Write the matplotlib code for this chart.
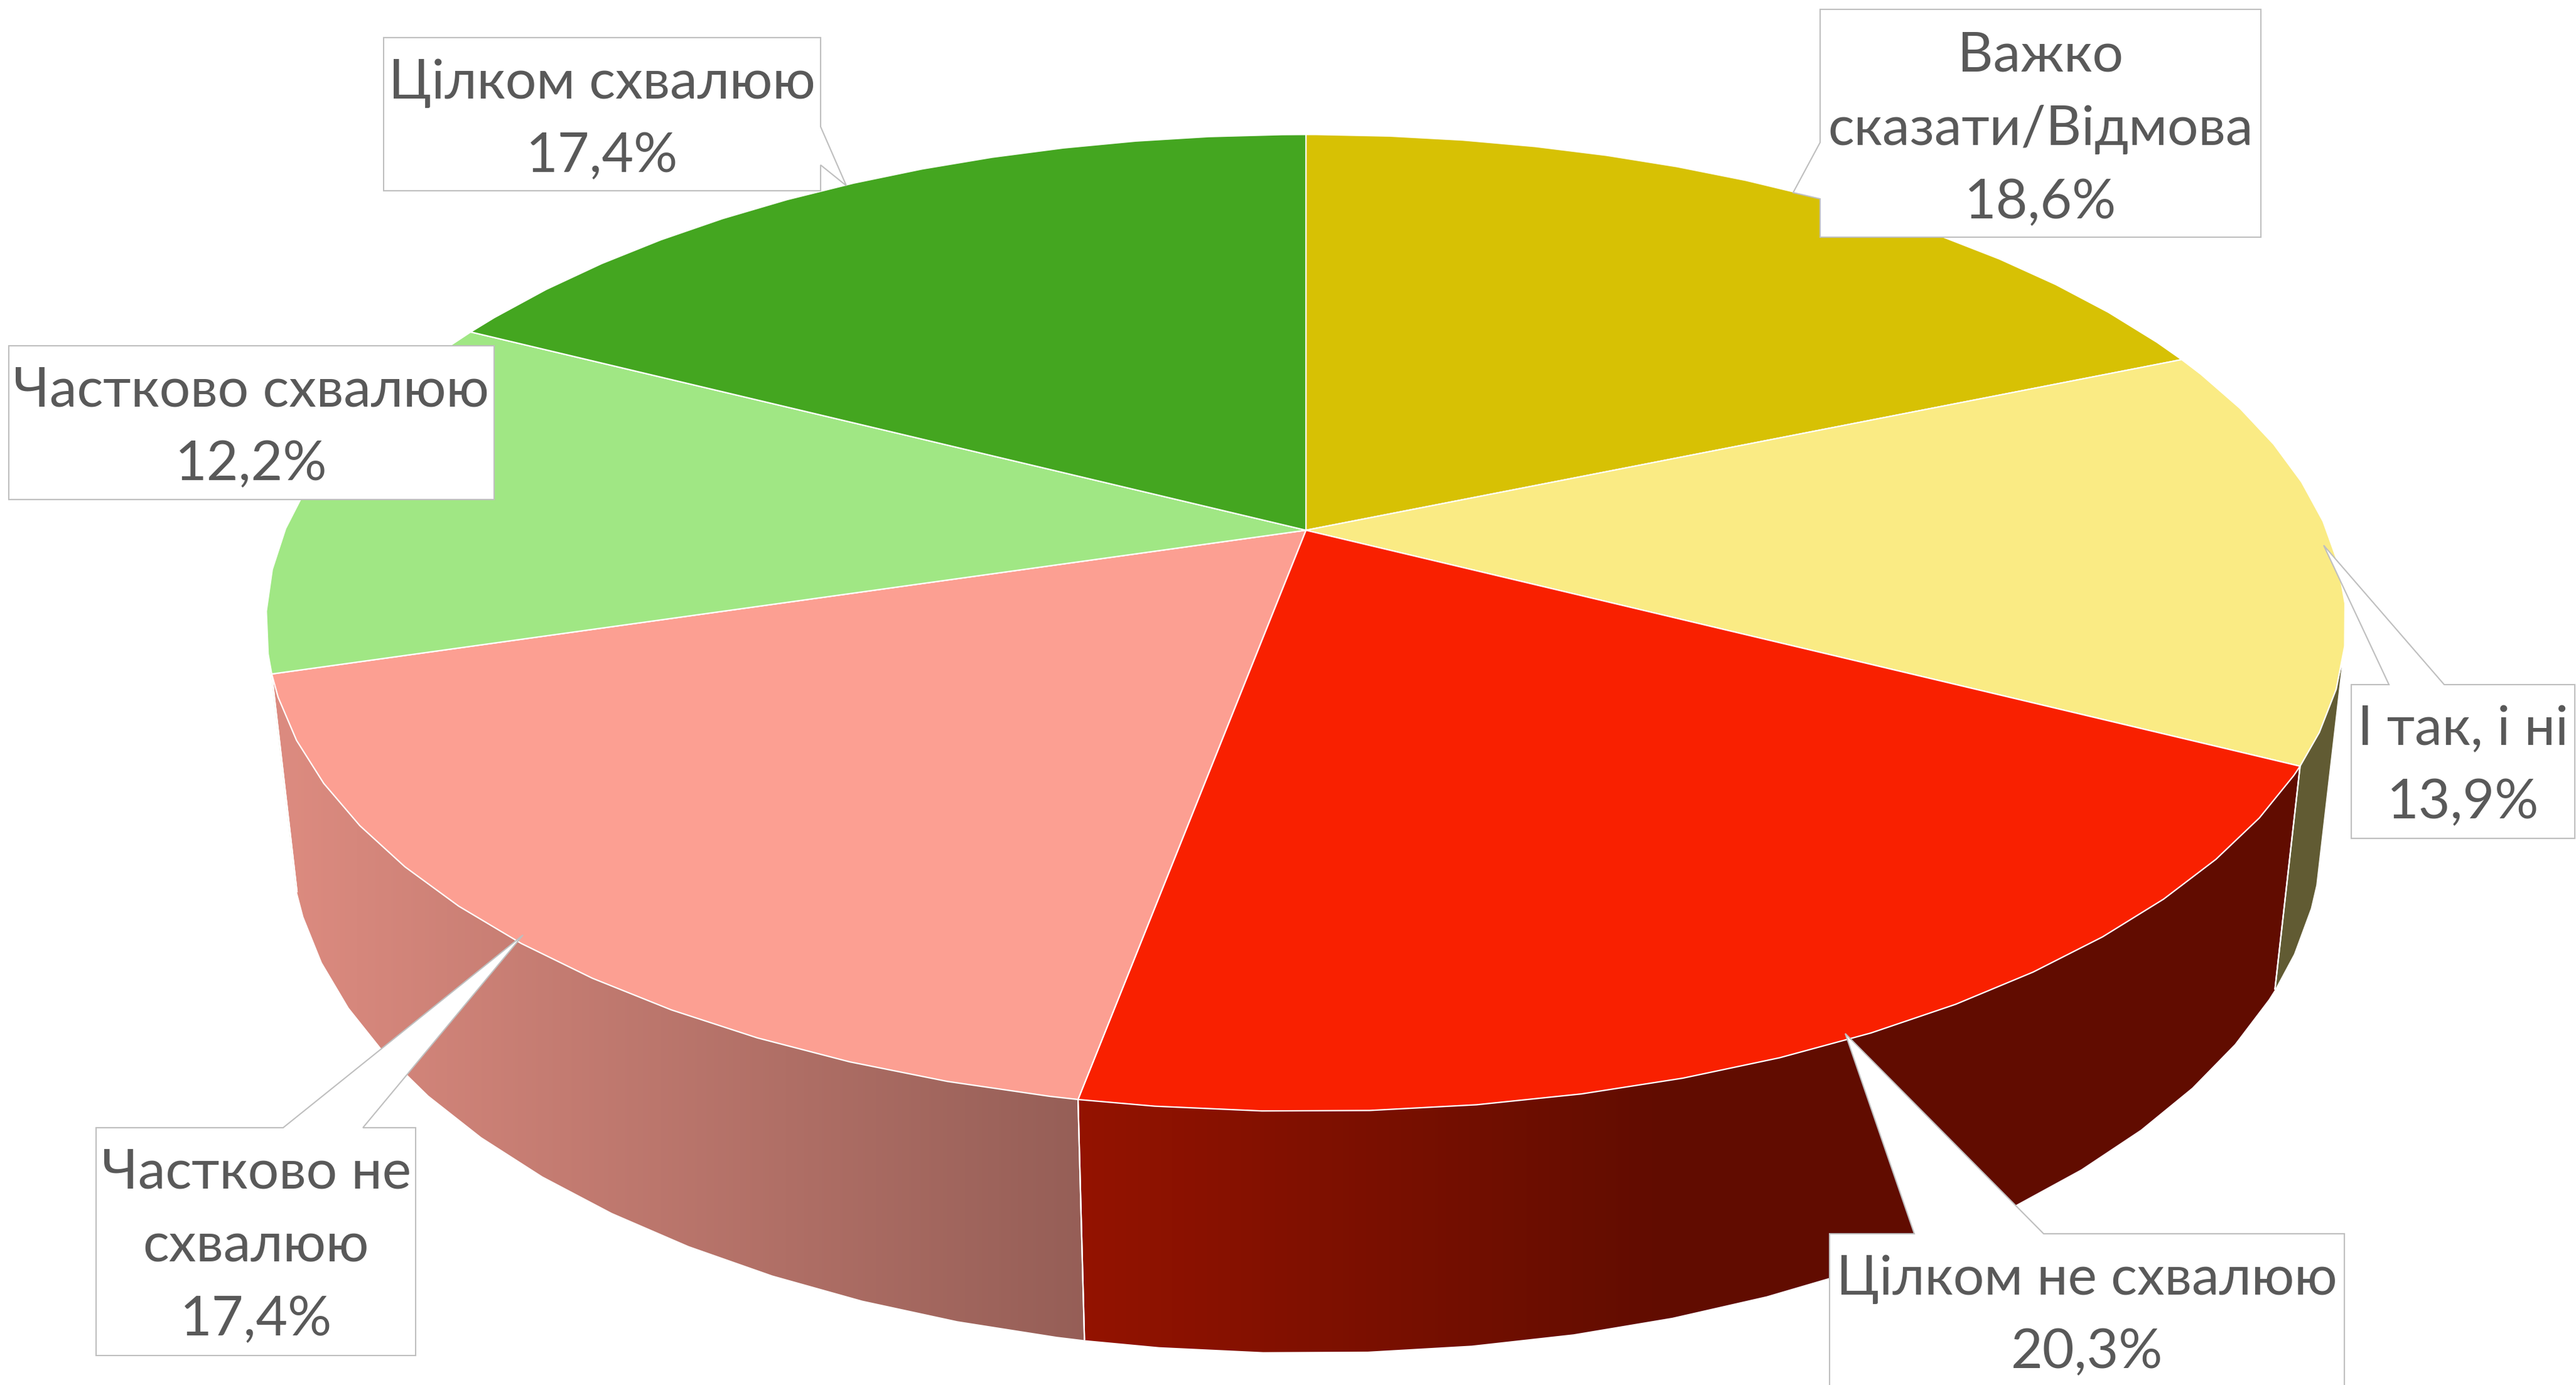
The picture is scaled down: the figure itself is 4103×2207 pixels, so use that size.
import numpy as np
import matplotlib
matplotlib.use("Agg")
import matplotlib.pyplot as plt
from matplotlib import font_manager as fm
from matplotlib.ft2font import FT2Font
from matplotlib.patches import Polygon
from matplotlib.colors import to_rgb

# ---- data ----
categories = ["Важко\nсказати/Відмова", "І так, і ні", "Цілком не схвалюю",
              "Частково не\nсхвалюю", "Частково схвалюю", "Цілком схвалюю"]
values = [18.6, 13.9, 20.3, 17.4, 12.2, 17.4]
value_labels = ["18,6%", "13,9%", "20,3%", "17,4%", "12,2%", "17,4%"]
colors = ["#D7C104", "#FAEB84", "#F92000", "#FC9F92", "#A0E784", "#44A620"]


def pick_font():
    for name in ["Lato", "Open Sans", "Noto Sans"]:
        try:
            path = fm.findfont(name, fallback_to_default=False)
            if FT2Font(path).get_char_index(ord("ц")):
                return name
        except Exception:
            pass
    return "DejaVu Sans"


FONT = pick_font()
W, H = 4103, 2207
CX, CY = 2080.0, 845.0
D, G, F = 5.27, 3954.0, 8570.0
K, M = 0.125, 1805.0
SIL_A, SIL_B = 106.0, 254.0
STEP, FACET_OFFSET = 4.9, 0.7


def project(theta_deg, t):
    th = np.radians(theta_deg)
    x, y = np.sin(th), np.cos(th)
    w = D + y + K * t
    return CX + F * x / w, CY + (-G * y + M * t) / w


def arc(a, b):
    first = np.ceil((a - FACET_OFFSET) / STEP) * STEP + FACET_OFFSET
    inner = np.arange(first, b, STEP)
    return np.concatenate([[a], inner[inner > a], [b]])


fig = plt.figure(figsize=((W + 0.1) / 100, (H + 0.1) / 100), dpi=100, facecolor="white")
ax = fig.add_axes([0, 0, 1, 1])
ax.set_axis_off()

total = sum(values)
edges = np.concatenate([[0], np.cumsum(values)]) / total * 360.0
grad = np.linspace(0.87, 0.39, 256)
GRAD_X0, GRAD_X1 = 470, 2650

# side walls
for i, col in enumerate(colors):
    a, b = max(edges[i], SIL_A), min(edges[i + 1], SIL_B)
    if b <= a:
        continue
    th = arc(a, b)
    xt, yt = project(th, 0)
    xb, yb = project(th, 1)
    pts = np.column_stack([np.r_[xt, xb[::-1]], np.r_[yt, yb[::-1]]])
    rgb = np.array(to_rgb(col))
    img = np.outer(grad, rgb)[None, :, :]
    im = ax.imshow(img, extent=(GRAD_X0, GRAD_X1, H, 0), aspect="auto", zorder=1,
                   interpolation="bilinear")
    full = ax.imshow(img[:, :1, :], extent=(-100, GRAD_X0, H, 0), aspect="auto", zorder=1)
    tail = ax.imshow(img[:, -1:, :], extent=(GRAD_X1, W + 100, H, 0), aspect="auto", zorder=1)
    for artist in (im, full, tail):
        clip = Polygon(pts, closed=True, transform=ax.transData)
        artist.set_clip_path(clip)
    for e in (edges[i], edges[i + 1]):
        if SIL_A < e < SIL_B:
            ex, ey = project(np.array([e, e]), np.array([0, 1]))
            ax.plot(ex, ey, color="white", lw=1.6, zorder=2, solid_capstyle="butt")

# top faces
for i, col in enumerate(colors):
    th = arc(edges[i], edges[i + 1])
    xt, yt = project(th, 0)
    pts = np.column_stack([np.r_[CX, xt], np.r_[CY, yt]])
    ax.add_patch(Polygon(pts, closed=True, facecolor=col, edgecolor="white",
                         lw=1.6, joinstyle="round", zorder=3))

# callout outlines (pixel positions of the label shapes)
callouts = [
    [(2899, 15), (3601, 15), (3601, 378), (2899, 378), (2899, 317), (2856, 307), (2899, 227)],
    [(3745, 1091), (3805, 1091), (3701, 869), (3893, 1091), (4101, 1091), (4101, 1336), (3745, 1336)],
    [(2914, 1966), (3049, 1966), (2939, 1647), (3255, 1966), (3734, 1966), (3734, 2230), (2914, 2230)],
    [(153, 1797), (451, 1797), (833, 1490), (578, 1797), (662, 1797), (662, 2160), (153, 2160)],
    [(14, 551), (787, 551), (787, 796), (14, 796)],
    [(611, 60), (1307, 60), (1307, 202), (1348, 296), (1307, 263), (1307, 304), (611, 304)],
]
text_centres = [(3250, 206), (3923, 1221), (3324, 2097), (408, 1986), (400, 682), (959, 191)]
for poly, (tx, ty), cat, lab in zip(callouts, text_centres, categories, value_labels):
    ax.add_patch(Polygon(poly, closed=True, facecolor="white", edgecolor="#BFBFBF",
                         lw=1.5, joinstyle="miter", zorder=5))
    ax.text(tx, ty, f"{cat}\n{lab}", ha="center", va="center", color="#595959",
            fontsize=63, family=[FONT, "DejaVu Sans"], linespacing=1.6, zorder=6)

ax.set_xlim(0, W)
ax.set_ylim(H, 0)
ax.set_aspect("auto")
fig.savefig("out.png", dpi=100, facecolor="white")
